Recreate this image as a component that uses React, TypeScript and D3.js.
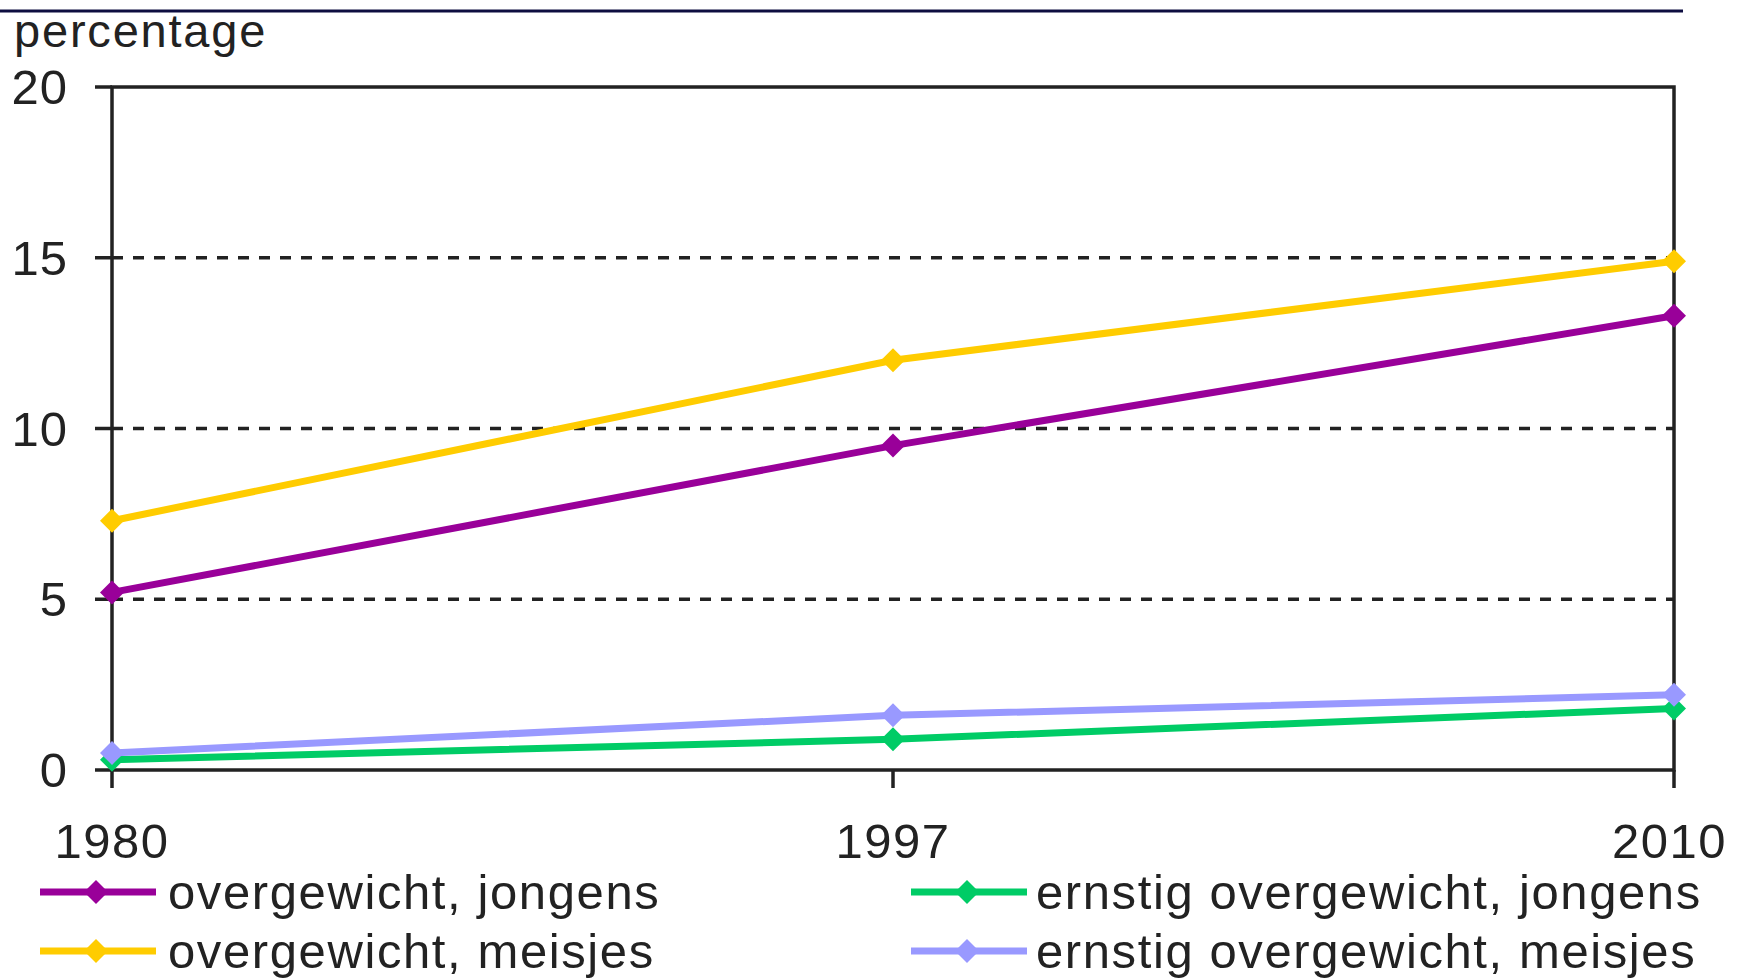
import React from "react";
import * as d3 from "d3";

const years = ["1980", "1997", "2010"];
const overgewichtJongens = [5.2, 9.5, 13.3];
const overgewichtMeisjes = [7.3, 12.0, 14.9];
const ernstigJongens = [0.3, 0.9, 1.8];
const ernstigMeisjes = [0.5, 1.6, 2.2];
const yTicks = [0, 5, 10, 15, 20];
const seriesNames = [
  "overgewicht, jongens",
  "overgewicht, meisjes",
  "ernstig overgewicht, jongens",
  "ernstig overgewicht, meisjes",
];

const W = 1747;
const H = 980;
const left = 112;
const right = 1674;
const top = 87;
const bottom = 770;
const FONT = "'Liberation Sans', Arial, sans-serif";
const FS = 49;

export default function App() {
  const x = d3.scalePoint<string>().domain(years).range([left, right]);
  const y = d3.scaleLinear().domain([0, 20]).range([bottom, top]);
  const line = d3
    .line<number>()
    .x((_, i) => x(years[i]) as number)
    .y((d) => y(d));

  const series = [
    { name: seriesNames[0], values: overgewichtJongens, color: "#990099" },
    { name: seriesNames[1], values: overgewichtMeisjes, color: "#FFCC00" },
    { name: seriesNames[2], values: ernstigJongens, color: "#00CC66" },
    { name: seriesNames[3], values: ernstigMeisjes, color: "#9999FF" },
  ];
  const drawOrder = [2, 3, 0, 1];
  const diamond = (cx: number, cy: number, r: number) =>
    `M${cx},${cy - r}L${cx + r},${cy}L${cx},${cy + r}L${cx - r},${cy}Z`;

  const legendPos = [
    { lx: 40, tx: 168, yy: 892 },
    { lx: 40, tx: 168, yy: 951 },
    { lx: 911, tx: 1036, yy: 892 },
    { lx: 911, tx: 1036, yy: 951 },
  ];

  return (
    <svg
      width={W}
      height={H}
      style={{ position: "absolute", left: 0, top: 0, background: "#fff" }}
      fontFamily={FONT}
    >
      <rect x={0} y={0} width={W} height={H} fill="#fff" />
      <line x1={0} x2={1683} y1={11} y2={11} stroke="#0d0d40" strokeWidth={3} />
      <text x={14} y={47} fontSize={47} fill="#222" letterSpacing={1.8}>
        percentage
      </text>

      {yTicks
        .filter((t) => t > 0 && t < 20)
        .map((t) => (
          <line
            key={"g" + t}
            x1={left}
            x2={right}
            y1={y(t)}
            y2={y(t)}
            stroke="#222"
            strokeWidth={3.5}
            strokeDasharray="11,10"
          />
        ))}

      <rect
        x={left}
        y={top}
        width={right - left}
        height={bottom - top}
        fill="none"
        stroke="#222"
        strokeWidth={3.5}
      />
      {yTicks.map((t) => (
        <g key={"yt" + t}>
          <line x1={95} x2={left} y1={y(t)} y2={y(t)} stroke="#222" strokeWidth={3.5} />
          <text
            x={68}
            y={y(t)}
            fontSize={FS}
            textAnchor="end"
            dominantBaseline="central"
            fill="#222"
            letterSpacing={1}
          >
            {t}
          </text>
        </g>
      ))}
      {years.map((yr, i) => (
        <g key={"xt" + yr}>
          <line
            x1={x(yr)}
            x2={x(yr)}
            y1={bottom}
            y2={788}
            stroke="#222"
            strokeWidth={3.5}
          />
          <text
            x={i === years.length - 1 ? 1727 : (x(yr) as number)}
            y={858}
            fontSize={FS}
            textAnchor={i === years.length - 1 ? "end" : "middle"}
            fill="#222"
            letterSpacing={1.5}
          >
            {yr}
          </text>
        </g>
      ))}

      {drawOrder.map((si) => {
        const s = series[si];
        return (
          <g key={s.name}>
            <path d={line(s.values) || ""} fill="none" stroke={s.color} strokeWidth={7} />
            {s.values.map((v, i) => (
              <path key={i} d={diamond(x(years[i]) as number, y(v), 12)} fill={s.color} />
            ))}
          </g>
        );
      })}

      {series.map((s, i) => {
        const p = legendPos[i];
        return (
          <g key={"lg" + i}>
            <line x1={p.lx} x2={p.lx + 116} y1={p.yy} y2={p.yy} stroke={s.color} strokeWidth={7} />
            <path d={diamond(p.lx + 56, p.yy, 12)} fill={s.color} />
            <text
              x={p.tx}
              y={p.yy}
              fontSize={FS}
              dominantBaseline="central"
              fill="#222"
              letterSpacing={1.6}
            >
              {s.name}
            </text>
          </g>
        );
      })}
    </svg>
  );
}
